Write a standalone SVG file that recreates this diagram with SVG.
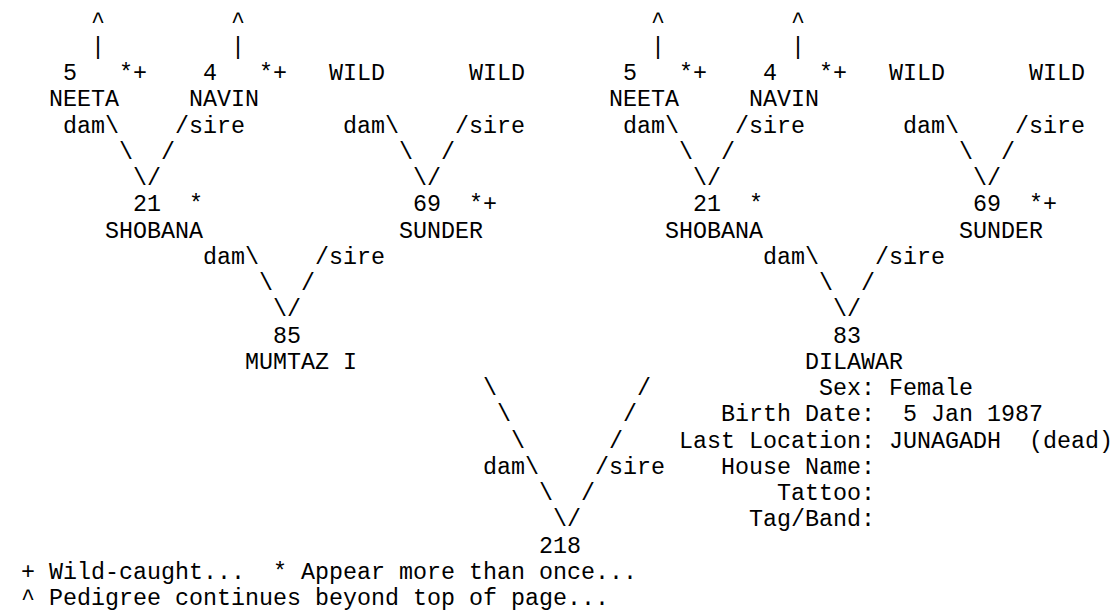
<svg xmlns="http://www.w3.org/2000/svg" width="1113" height="612" viewBox="0 0 1113 612" xml:space="preserve">
<style>
text{font-family:"Liberation Mono","Courier New",monospace;font-size:23.333px;fill:#000;white-space:pre}
</style>
<rect width="1113" height="612" fill="#fff"/>
<g id="connectors">
<text x="91" y="27.5">^</text><text x="231" y="27.5">^</text>
<text x="651" y="27.5">^</text><text x="791" y="27.5">^</text>
<text x="91" y="53.75">|</text><text x="231" y="53.75">|</text>
<text x="651" y="53.75">|</text><text x="791" y="53.75">|</text>
<text x="63" y="132.5">dam\</text><text x="175" y="132.5">/sire</text>
<text x="343" y="132.5">dam\</text><text x="455" y="132.5">/sire</text>
<text x="623" y="132.5">dam\</text><text x="735" y="132.5">/sire</text>
<text x="903" y="132.5">dam\</text><text x="1015" y="132.5">/sire</text>
<text x="119" y="158.75">\</text><text x="161" y="158.75">/</text>
<text x="399" y="158.75">\</text><text x="441" y="158.75">/</text>
<text x="679" y="158.75">\</text><text x="721" y="158.75">/</text>
<text x="959" y="158.75">\</text><text x="1001" y="158.75">/</text>
<text x="133" y="185">\/</text><text x="413" y="185">\/</text>
<text x="693" y="185">\/</text><text x="973" y="185">\/</text>
<text x="203" y="263.75">dam\</text><text x="315" y="263.75">/sire</text>
<text x="763" y="263.75">dam\</text><text x="875" y="263.75">/sire</text>
<text x="259" y="290">\</text><text x="301" y="290">/</text>
<text x="819" y="290">\</text><text x="861" y="290">/</text>
<text x="273" y="316.25">\/</text><text x="833" y="316.25">\/</text>
<text x="483" y="395">\</text><text x="637" y="395">/</text>
<text x="497" y="421.25">\</text><text x="623" y="421.25">/</text>
<text x="511" y="447.5">\</text><text x="609" y="447.5">/</text>
<text x="483" y="473.75">dam\</text><text x="595" y="473.75">/sire</text>
<text x="539" y="500">\</text><text x="581" y="500">/</text>
<text x="553" y="526.25">\/</text>
</g>
<g id="node-neeta-l"><text x="63" y="80">5</text><text x="119" y="80">*+</text><text x="49" y="106.25">NEETA</text></g>
<g id="node-navin-l"><text x="203" y="80">4</text><text x="259" y="80">*+</text><text x="189" y="106.25">NAVIN</text></g>
<g id="node-wild1-l"><text x="329" y="80">WILD</text></g>
<g id="node-wild2-l"><text x="469" y="80">WILD</text></g>
<g id="node-shobana-l"><text x="133" y="211.25">21</text><text x="189" y="211.25">*</text><text x="105" y="237.5">SHOBANA</text></g>
<g id="node-sunder-l"><text x="413" y="211.25">69</text><text x="469" y="211.25">*+</text><text x="399" y="237.5">SUNDER</text></g>
<g id="node-mumtaz"><text x="273" y="342.5">85</text><text x="245" y="368.75">MUMTAZ I</text></g>
<g id="node-neeta-r"><text x="623" y="80">5</text><text x="679" y="80">*+</text><text x="609" y="106.25">NEETA</text></g>
<g id="node-navin-r"><text x="763" y="80">4</text><text x="819" y="80">*+</text><text x="749" y="106.25">NAVIN</text></g>
<g id="node-wild1-r"><text x="889" y="80">WILD</text></g>
<g id="node-wild2-r"><text x="1029" y="80">WILD</text></g>
<g id="node-shobana-r"><text x="693" y="211.25">21</text><text x="749" y="211.25">*</text><text x="665" y="237.5">SHOBANA</text></g>
<g id="node-sunder-r"><text x="973" y="211.25">69</text><text x="1029" y="211.25">*+</text><text x="959" y="237.5">SUNDER</text></g>
<g id="node-dilawar"><text x="833" y="342.5">83</text><text x="805" y="368.75">DILAWAR</text></g>
<g id="node-218"><text x="539" y="552.5">218</text></g>
<g id="info">
<text x="819" y="395">Sex: Female</text>
<text x="721" y="421.25">Birth Date:  5 Jan 1987</text>
<text x="679" y="447.5">Last Location: JUNAGADH  (dead)</text>
<text x="721" y="473.75">House Name:</text>
<text x="777" y="500">Tattoo:</text>
<text x="749" y="526.25">Tag/Band:</text>
</g>
<g id="legend">
<text x="21" y="578.75">+ Wild-caught...  * Appear more than once...</text>
<text x="21" y="605">^ Pedigree continues beyond top of page...</text>
</g>
</svg>
